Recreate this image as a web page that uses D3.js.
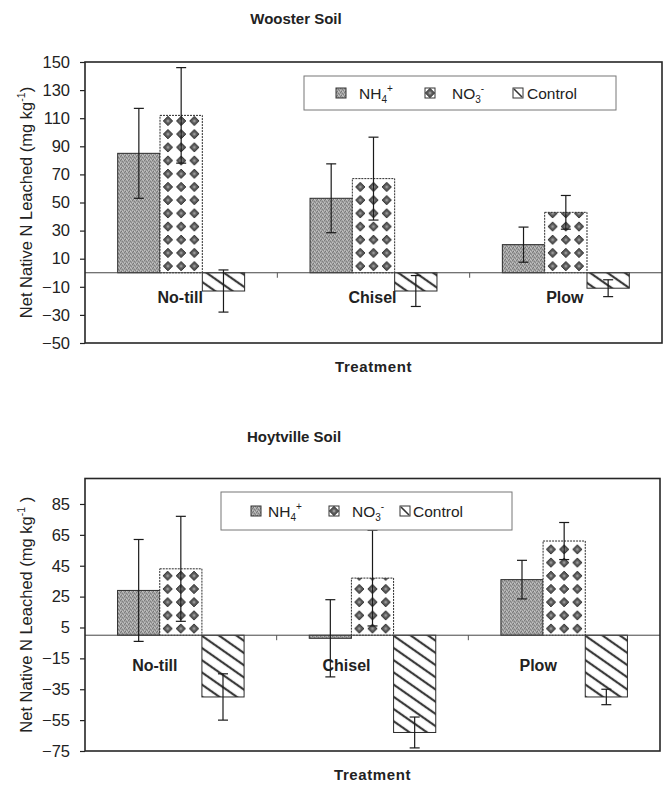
<!DOCTYPE html>
<html>
<head>
<meta charset="utf-8">
<script src="https://cdn.jsdelivr.net/npm/d3@7/dist/d3.min.js"></script>
<style>
  html, body { margin: 0; padding: 0; background: #fff; }
  svg { display: block; font-family: "Liberation Sans", Arial, sans-serif; }
</style>
</head>
<body>
<svg id="chart" width="666" height="785"></svg>
<script>
// Treatments and nitrogen sources
const categories = ["No-till", "Chisel", "Plow"];
const seriesKeys = ["NH4", "NO3", "Control"];

// Wooster soil: net native N leached (mg kg-1) and error bar half-widths
const woosterNH4 = [85, 53, 20];
const woosterNO3 = [112, 67, 43];
const woosterControl = [-13, -13, -11];
const woosterNH4Err = [32, 24.5, 12.5];
const woosterNO3Err = [34, 29.5, 12];
const woosterControlErr = [15, 11, 6];
const woosterTicks = [150, 130, 110, 90, 70, 50, 30, 10, -10, -30, -50];

// Hoytville soil
const hoytNH4 = [29, -2, 36];
const hoytNO3 = [43, 37, 61];
const hoytControl = [-40, -63, -40];
const hoytNH4Err = [33, 25, 12.5];
const hoytNO3Err = [34, 31, 12];
const hoytControlErr = [15, 10, 5];
const hoytTicks = [85, 65, 45, 25, 5, -15, -35, -55, -75];

const svg = d3.select("#chart");
const defs = svg.append("defs");

// Stippled grey fill for the NH4+ bars
const grain = defs.append("pattern")
  .attr("id", "grain").attr("patternUnits", "userSpaceOnUse")
  .attr("width", 4).attr("height", 4);
grain.append("rect").attr("width", 4).attr("height", 4).attr("fill", "#a2a2a2");
[[0,0,"#7c7c7c"],[2,1,"#808080"],[1,3,"#777"],[3,2,"#858585"],[2,3,"#c6c6c6"],[0,2,"#c0c0c0"],[3,0,"#bdbdbd"]]
  .forEach(([px, py, c]) => grain.append("rect").attr("x", px).attr("y", py)
    .attr("width", 1).attr("height", 1).attr("fill", c));

// Downward diagonal hatch for the control bars
const hatch = defs.append("pattern")
  .attr("id", "hatch").attr("patternUnits", "userSpaceOnUse")
  .attr("width", 10).attr("height", 10)
  .attr("patternTransform", "rotate(35)");
hatch.append("rect").attr("width", 10).attr("height", 10).attr("fill", "#fff");
hatch.append("line").attr("x1", 0).attr("x2", 10).attr("y1", 5).attr("y2", 5)
  .attr("stroke", "#3a3a3a").attr("stroke-width", 2.2);

const TILE = 13.2;
function diamondPattern(id, x, y) {
  const p = defs.append("pattern")
    .attr("id", id).attr("patternUnits", "userSpaceOnUse")
    .attr("x", x).attr("y", y).attr("width", TILE).attr("height", TILE);
  p.append("rect").attr("width", TILE).attr("height", TILE).attr("fill", "#fff");
  const c = TILE / 2;
  p.append("path")
    .attr("d", `M${c},${c - 4.6}L${c + 4.6},${c}L${c},${c + 4.6}L${c - 4.6},${c}Z`)
    .attr("fill", "#5a5a5a").attr("stroke", "#1e1e1e").attr("stroke-width", 0.9);
  p.append("rect").attr("x", c - 1.3).attr("y", c - 1.3).attr("width", 2.6).attr("height", 2.6)
    .attr("fill", "#9a9a9a");
}

function drawPanel(cfg) {
  const g = svg.append("g");
  const x = d3.scaleBand().domain(categories)
    .range([cfg.left, cfg.right]).paddingInner(0.34).paddingOuter(0.17);
  const xs = d3.scaleBand().domain(seriesKeys).range([0, x.bandwidth()]);
  const y = d3.scaleLinear().domain(cfg.domain).range([cfg.bottom, cfg.top]);
  const y0 = y(0);

  // panel title
  g.append("text").attr("x", cfg.titleX).attr("y", cfg.titleY)
    .attr("text-anchor", "middle").attr("font-size", 15).attr("font-weight", "bold")
    .attr("fill", "#222").text(cfg.title);

  // y axis ticks and labels
  const yAxis = g.append("g").attr("transform", `translate(${cfg.left},0)`)
    .call(d3.axisLeft(y).tickValues(cfg.ticks).tickSize(5).tickPadding(10).tickFormat(d3.format("d")));
  yAxis.select(".domain").remove();
  yAxis.selectAll(".tick line").attr("stroke", "#222").attr("stroke-width", 1.2);
  yAxis.selectAll(".tick text").attr("font-size", 16.5).attr("fill", "#222")
    .attr("font-family", "Liberation Sans, Arial, sans-serif");

  // y axis title
  g.append("text")
    .attr("transform", `translate(${cfg.yTitleX},${(cfg.top + cfg.bottom) / 2}) rotate(-90)`)
    .attr("text-anchor", "middle").attr("font-size", 16.5).attr("fill", "#222")
    .call(t => {
      t.append("tspan").text("Net Native N Leached (mg kg");
      t.append("tspan").attr("dy", -7).attr("font-size", 10.5).text("-1");
      t.append("tspan").attr("dy", 7).text(cfg.yTitleTail);
    });

  // bar data
  const rows = categories.map((cat, i) => ({
    cat,
    bars: [
      { key: "NH4", v: cfg.nh4[i], e: cfg.nh4Err[i] },
      { key: "NO3", v: cfg.no3[i], e: cfg.no3Err[i] },
      { key: "Control", v: cfg.control[i], e: cfg.controlErr[i] }
    ]
  }));
  const flat = rows.flatMap(r => r.bars.map(b => Object.assign({ cat: r.cat }, b)));
  const bw = xs.bandwidth();

  flat.forEach((d, i) => {
    d.x = x(d.cat) + xs(d.key);
    d.id = `${cfg.id}-${i}`;
    if (d.key === "NO3") diamondPattern("dia-" + d.id, d.x + bw / 2 - TILE / 2, y0);
  });
  const fillFor = d => d.key === "NH4" ? "url(#grain)"
    : d.key === "NO3" ? `url(#dia-${d.id})` : "url(#hatch)";

  g.append("g").selectAll("rect").data(flat).join("rect")
    .attr("x", d => d.x)
    .attr("y", d => y(Math.max(0, d.v)))
    .attr("width", bw)
    .attr("height", d => Math.abs(y(d.v) - y0))
    .attr("fill", fillFor)
    .attr("stroke", "#2a2a2a")
    .attr("stroke-width", 1)
    .attr("stroke-dasharray", d => d.key === "NO3" ? "2,1" : null);

  // zero line with boundary ticks between treatments
  g.append("line").attr("x1", cfg.left).attr("x2", cfg.right)
    .attr("y1", y0).attr("y2", y0).attr("stroke", "#444").attr("stroke-width", 1);
  g.append("g").selectAll("line").data(categories.slice(1)).join("line")
    .attr("x1", d => x(d) - x.step() * x.paddingInner() / 2)
    .attr("x2", d => x(d) - x.step() * x.paddingInner() / 2)
    .attr("y1", y0).attr("y2", y0 + 5).attr("stroke", "#555").attr("stroke-width", 1);

  // error bars
  const eb = g.append("g").selectAll("g").data(flat).join("g")
    .attr("stroke", "#1a1a1a").attr("stroke-width", 1.2);
  eb.append("line")
    .attr("x1", d => d.x + bw / 2).attr("x2", d => d.x + bw / 2)
    .attr("y1", d => y(d.v + d.e)).attr("y2", d => y(d.v - d.e));
  eb.append("line")
    .attr("x1", d => d.x + bw / 2 - 5).attr("x2", d => d.x + bw / 2 + 5)
    .attr("y1", d => y(d.v + d.e)).attr("y2", d => y(d.v + d.e));
  eb.append("line")
    .attr("x1", d => d.x + bw / 2 - 5).attr("x2", d => d.x + bw / 2 + 5)
    .attr("y1", d => y(d.v - d.e)).attr("y2", d => y(d.v - d.e));

  // treatment labels under the zero line
  g.append("g").selectAll("text").data(categories).join("text")
    .attr("x", d => x(d) + x.bandwidth() / 2 + cfg.labelShift)
    .attr("y", y0 + cfg.labelDy)
    .attr("text-anchor", "middle").attr("font-size", 16).attr("font-weight", "bold")
    .attr("fill", "#222").text(d => d);

  // plot frame
  g.append("rect").attr("x", cfg.left).attr("y", cfg.top)
    .attr("width", cfg.right - cfg.left).attr("height", cfg.bottom - cfg.top)
    .attr("fill", "none").attr("stroke", "#262626").attr("stroke-width", 1.6);

  // x axis title
  g.append("text").attr("x", (cfg.left + cfg.right) / 2).attr("y", cfg.xTitleY)
    .attr("text-anchor", "middle").attr("font-size", 15).attr("font-weight", "bold")
    .attr("letter-spacing", 0.6).attr("fill", "#222").text("Treatment");

  // legend
  const lb = cfg.legend;
  const lg = g.append("g");
  lg.append("rect").attr("x", lb.x).attr("y", lb.y).attr("width", lb.w).attr("height", lb.h)
    .attr("fill", "#fff").attr("stroke", "#777").attr("stroke-width", 1);
  const cy = lb.y + lb.h / 2;
  seriesKeys.forEach((k, i) => {
    const sx = lb.swatch[i];
    if (k === "NO3") diamondPattern("leg-dia-" + cfg.id, sx + 5 - TILE / 2, cy - TILE / 2);
    lg.append("rect").attr("x", sx).attr("y", cy - 5).attr("width", 10).attr("height", 10)
      .attr("fill", k === "NH4" ? "url(#grain)" : k === "NO3" ? `url(#leg-dia-${cfg.id})` : "#fff")
      .attr("stroke", "#333").attr("stroke-width", 1);
    if (k === "Control") {
      lg.append("line").attr("x1", sx + 1).attr("y1", cy - 4).attr("x2", sx + 9).attr("y2", cy + 4)
        .attr("stroke", "#333").attr("stroke-width", 1.6);
    }
    const t = lg.append("text").attr("x", lb.text[i]).attr("y", cy + 5.5)
      .attr("font-size", 15.5).attr("fill", "#222");
    if (k === "NH4") {
      t.append("tspan").text("NH");
      t.append("tspan").attr("font-size", 10).attr("dy", 4).text("4");
      t.append("tspan").attr("font-size", 10).attr("dy", -11).text("+");
    } else if (k === "NO3") {
      t.append("tspan").text("NO");
      t.append("tspan").attr("font-size", 10).attr("dy", 4).text("3");
      t.append("tspan").attr("font-size", 10).attr("dy", -11).text("-");
    } else {
      t.text("Control");
    }
  });
}

drawPanel({
  id: "w", title: "Wooster Soil", titleX: 296, titleY: 24,
  left: 85, right: 662, top: 62, bottom: 343,
  domain: [-50, 150], ticks: woosterTicks,
  nh4: woosterNH4, no3: woosterNO3, control: woosterControl,
  nh4Err: woosterNH4Err, no3Err: woosterNO3Err, controlErr: woosterControlErr,
  yTitleX: 32, yTitleTail: ")", labelShift: -1, labelDy: 30, xTitleY: 372,
  legend: { x: 304, y: 76, w: 312, h: 34, swatch: [336, 425, 513], text: [359, 452, 527] }
});

drawPanel({
  id: "h", title: "Hoytville Soil", titleX: 294, titleY: 442,
  left: 85, right: 660, top: 478.5, bottom: 751,
  domain: [-75, 101.5], ticks: hoytTicks,
  nh4: hoytNH4, no3: hoytNO3, control: hoytControl,
  nh4Err: hoytNH4Err, no3Err: hoytNO3Err, controlErr: hoytControlErr,
  yTitleX: 32, yTitleTail: " )", labelShift: -26, labelDy: 36, xTitleY: 780,
  legend: { x: 221, y: 492, w: 291, h: 38, swatch: [251, 329, 400], text: [268, 352, 413] }
});
</script>
</body>
</html>
